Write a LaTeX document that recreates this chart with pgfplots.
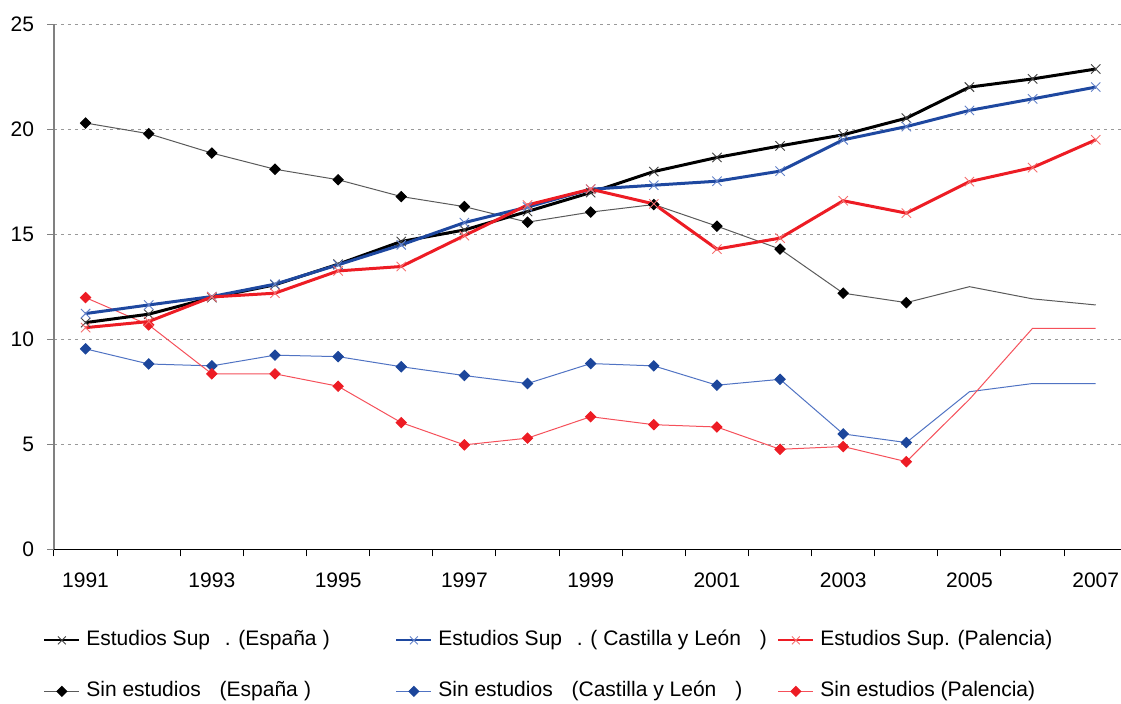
\documentclass[border=0pt]{standalone}
\usepackage{pgfplots}
\usepackage{pgfplotstable}
\pgfplotsset{compat=1.18}
\usepackage{fontspec}
\setmainfont{Liberation Sans}

\definecolor{supblue}{RGB}{30,72,160}
\definecolor{supred}{RGB}{237,28,36}
\definecolor{mkblue}{RGB}{100,130,200}
\definecolor{mkred}{RGB}{245,110,110}
\definecolor{sinblue}{RGB}{28,70,155}
\definecolor{lnblue}{RGB}{80,115,195}
\definecolor{lnred}{RGB}{245,80,90}
\definecolor{lngray}{RGB}{90,90,90}

\pgfplotstableread{
year esps cyls pals espn cyln paln
1991 10.80 11.23 10.56 20.30 9.55 11.99
1992 11.20 11.64 10.85 19.79 8.83 10.69
1993 11.99 12.04 12.02 18.87 8.74 8.36
1994 12.60 12.63 12.20 18.10 9.25 8.36
1995 13.58 13.55 13.26 17.60 9.18 7.77
1996 14.66 14.50 13.47 16.80 8.70 6.04
1997 15.21 15.56 14.94 16.32 8.28 4.98
1998 16.09 16.30 16.40 15.58 7.90 5.30
1999 16.99 17.15 17.15 16.06 8.85 6.32
2000 17.99 17.34 16.45 16.42 8.74 5.94
2001 18.66 17.53 14.30 15.39 7.82 5.83
2002 19.21 18.01 14.82 14.30 8.10 4.77
2003 19.74 19.50 16.60 12.20 5.50 4.90
2004 20.53 20.13 16.01 11.75 5.09 4.18
2005 22.01 20.90 17.51 12.51 7.51 7.15
2006 22.40 21.45 18.18 11.93 7.90 10.53
2007 22.87 22.01 19.50 11.64 7.90 10.53
}\datatable

\newcommand{\lf}{\fontsize{10.5}{12.6}\selectfont}

\begin{document}
\begin{tikzpicture}
\useasboundingbox (0,0) rectangle (560.5pt,352pt);
\begin{axis}[
  at={(27pt,77.25pt)}, anchor=south west,
  scale only axis, width=533.5pt, height=262.6pt,
  xmin=1990.5, xmax=2007.4, ymin=0, ymax=25,
  axis x line*=bottom, axis y line*=left,
  x axis line style={-, black, line width=0.5pt},
  y axis line style={-, gray, line width=0.7pt},
  xtick={1991,1993,...,2007},
  minor xtick={1990.5,1991.5,...,2006.5},
  major x tick style={draw=none},
  minor x tick style={black, line width=0.5pt},
  minor tick length=3.5pt,
  ytick={0,5,...,25},
  y tick style={gray, line width=0.5pt},
  major tick length=3.5pt,
  tick align=outside,
  ymajorgrids,
  grid style={gray!80, line width=0.4pt, dash pattern=on 1.5pt off 2pt},
  ticklabel style={font=\lf},
  /pgf/number format/assume math mode=true,
  x tick label style={/pgf/number format/1000 sep={}, yshift=-4.5pt},
  y tick label style={xshift=-3pt},
  clip=false,
  legend columns=3,
  legend cell align=left,
  legend style={at={(axis description cs:0,0)}, anchor=north west,
    xshift=-5.5pt, yshift=-40pt, draw=none, fill=none, inner sep=0pt,
    font=\lf, row sep=15pt,
    nodes={inner sep=0pt, text height=8pt, text depth=2.5pt},
    /tikz/every odd column/.append style={column sep=3pt},
    /tikz/every even column/.append style={column sep=0pt}},
  legend image code/.code={
    \draw[#1] (0pt,0pt) -- (17.5pt,0pt);
    \draw[#1, mark repeat=1] plot coordinates {(8.75pt,0pt)};
  },
]
% legend
\addlegendimage{black, line width=1pt, mark=x, mark size=2.8pt, mark options={draw=black!75, line width=0.4pt}}
\addlegendentry{\makebox[154.5pt][l]{Estudios Sup\hspace{0.7em}. (España\hspace{0.3em})}}
\addlegendimage{supblue, line width=1pt, mark=x, mark size=2.8pt, mark options={draw=mkblue, line width=0.4pt}}
\addlegendentry{\makebox[169.5pt][l]{Estudios Sup\hspace{0.7em}. ( Castilla y León\hspace{0.9em})}}
\addlegendimage{supred, line width=1pt, mark=x, mark size=2.8pt, mark options={draw=mkred, line width=0.4pt}}
\addlegendentry{Estudios Sup. (Palencia)}
\addlegendimage{lngray, line width=0.6pt, mark=square*, mark size=1.7pt, mark options={rotate=45, black, fill=black}}
\addlegendentry{\makebox[154.5pt][l]{Sin estudios\hspace{0.9em}(España\hspace{0.3em})}}
\addlegendimage{lnblue, line width=0.6pt, mark=square*, mark size=1.7pt, mark options={rotate=45, sinblue, fill=sinblue}}
\addlegendentry{\makebox[169.5pt][l]{Sin estudios\hspace{0.9em}(Castilla y León\hspace{0.9em})}}
\addlegendimage{lnred, line width=0.6pt, mark=square*, mark size=1.7pt, mark options={rotate=45, supred, fill=supred}}
\addlegendentry{Sin estudios (Palencia)}

% Sin estudios
\addplot[forget plot, lngray, line width=0.5pt, mark=square*, mark size=1.8pt, mark indices={1,...,14},
  mark options={rotate=45, black, fill=black}] table[x=year, y=espn] {\datatable};
\addplot[forget plot, lnblue, line width=0.5pt, mark=square*, mark size=1.8pt, mark indices={1,...,14},
  mark options={rotate=45, sinblue, fill=sinblue}] table[x=year, y=cyln] {\datatable};
\addplot[forget plot, lnred, line width=0.5pt, mark=square*, mark size=1.8pt, mark indices={1,...,14},
  mark options={rotate=45, supred, fill=supred}] table[x=year, y=paln] {\datatable};
% Estudios superiores
\addplot[forget plot, black, line width=1.5pt, mark=x, mark size=3.3pt,
  mark options={draw=black!75, line width=0.45pt}] table[x=year, y=esps] {\datatable};
\addplot[forget plot, supblue, line width=1.5pt, mark=x, mark size=3.3pt,
  mark options={draw=mkblue, line width=0.45pt}] table[x=year, y=cyls] {\datatable};
\addplot[forget plot, supred, line width=1.5pt, mark=x, mark size=3.3pt,
  mark options={draw=mkred, line width=0.45pt}] table[x=year, y=pals] {\datatable};
\end{axis}
\end{tikzpicture}
\end{document}
